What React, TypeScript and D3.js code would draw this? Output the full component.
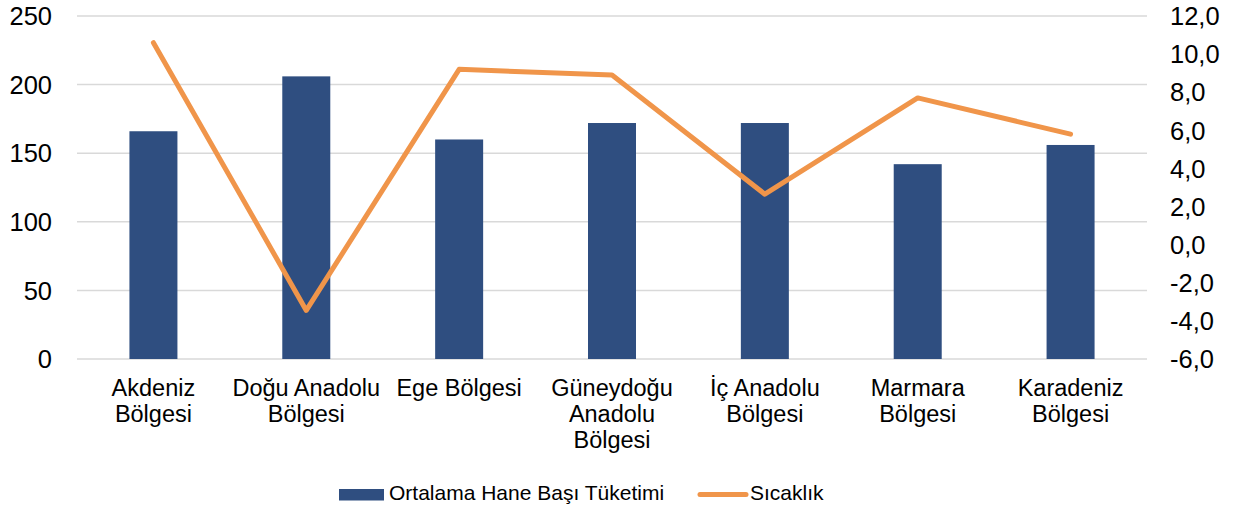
import React from "react";
import * as d3 from "d3";

const categories: string[][] = [
  ["Akdeniz", "Bölgesi"],
  ["Doğu Anadolu", "Bölgesi"],
  ["Ege Bölgesi"],
  ["Güneydoğu", "Anadolu", "Bölgesi"],
  ["İç Anadolu", "Bölgesi"],
  ["Marmara", "Bölgesi"],
  ["Karadeniz", "Bölgesi"],
];
const consumption: number[] = [166, 206, 160, 172, 172, 142, 156];
const temperature: number[] = [10.6, -3.45, 9.2, 8.9, 2.65, 7.7, 5.8];
const leftTicks: number[] = [0, 50, 100, 150, 200, 250];
const rightTicks: number[] = [-6, -4, -2, 0, 2, 4, 6, 8, 10, 12];
const seriesNames = ["Ortalama Hane Başı Tüketimi", "Sıcaklık"];

const W = 1238;
const H = 512;
const BAR = "#2F4E80";
const LINE = "#F0954A";
const FONT = "'Liberation Sans', Arial, sans-serif";

export default function App() {
  const left = 77, right = 1147, top = 16, bottom = 359;
  const x = d3.scaleBand<number>().domain(d3.range(categories.length)).range([left, right]).paddingInner(0.686).paddingOuter(0.343);
  const yL = d3.scaleLinear().domain([0, 250]).range([bottom, top]);
  const yR = d3.scaleLinear().domain([-6, 12]).range([bottom, top]);
  const step = (right - left) / categories.length;
  const cx = (i: number) => left + step * (i + 0.5);
  const bw = 48;
  const line = d3.line<number>().x((_, i) => cx(i)).y((d) => yR(d));

  return (
    <svg width={W} height={H} style={{ position: "absolute", left: 0, top: 0 }} fontFamily={FONT}>
      <rect width={W} height={H} fill="#fff" />
      {leftTicks.map((t) => (
        <line key={t} x1={left} x2={right} y1={yL(t)} y2={yL(t)} stroke="#D9D9D9" strokeWidth={1.5} />
      ))}
      {leftTicks.map((t) => (
        <text key={"l" + t} x={52} y={yL(t)} dy="0.36em" textAnchor="end" fontSize={25.5} fill="#000">
          {t}
        </text>
      ))}
      {rightTicks.map((t) => (
        <text key={"r" + t} x={1170} y={yR(t)} dy="0.36em" textAnchor="start" fontSize={25.5} fill="#000">
          {t.toFixed(1).replace(".", ",")}
        </text>
      ))}
      {consumption.map((v, i) => (
        <rect key={i} x={cx(i) - bw / 2} y={yL(v)} width={bw} height={yL(0) - yL(v)} fill={BAR} />
      ))}
      <path d={line(temperature) || ""} fill="none" stroke={LINE} strokeWidth={5} strokeLinejoin="round" strokeLinecap="round" />
      {categories.map((lines, i) => (
        <text key={"c" + i} x={cx(i)} y={396} textAnchor="middle" fontSize={23.5} fill="#000">
          {lines.map((s, j) => (
            <tspan key={j} x={cx(i)} dy={j === 0 ? 0 : 26}>
              {s}
            </tspan>
          ))}
        </text>
      ))}
      <rect x={339} y={489} width={45} height={11.5} fill={BAR} />
      <text x={389} y={500} fontSize={21} fill="#000">{seriesNames[0]}</text>
      <line x1={700} x2={746} y1={494.5} y2={494.5} stroke={LINE} strokeWidth={5} strokeLinecap="round" />
      <text x={750} y={500} fontSize={21} fill="#000">{seriesNames[1]}</text>
    </svg>
  );
}
